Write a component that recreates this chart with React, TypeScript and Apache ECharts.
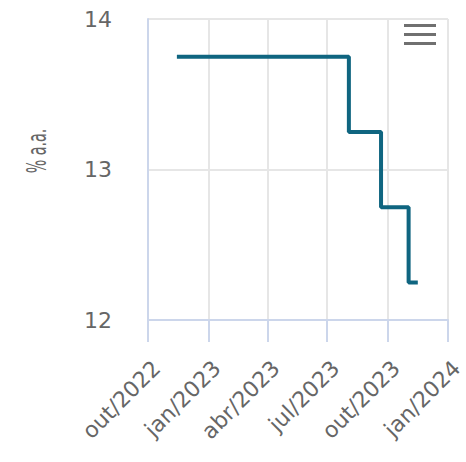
import React, { useEffect, useRef } from "react";
import * as echarts from "echarts";

const changeDates = ["2022-11-14", "2023-08-03", "2023-09-21", "2023-11-02", "2023-11-16"];
const rates = [13.75, 13.25, 12.75, 12.25, 12.25];
const tickDates = ["2022-10-01", "2023-01-01", "2023-04-01", "2023-07-01", "2023-10-01", "2024-01-01"];
const monthNames = ["jan", "fev", "mar", "abr", "mai", "jun", "jul", "ago", "set", "out", "nov", "dez"];
const yTitle = "% a.a.";

const ts = (s: string) => {
  const [y, m, d] = s.split("-").map(Number);
  return Date.UTC(y, m - 1, d);
};

export default function App() {
  const ref = useRef<HTMLDivElement>(null);
  useEffect(() => {
    if (!ref.current) return;
    const chart = echarts.init(ref.current, undefined, { renderer: "svg" });
    const ticks = tickDates.map(ts);
    const font = "'DejaVu Sans', sans-serif";
    chart.setOption({
      animation: false,
      textStyle: { fontFamily: font },
      grid: { left: 148, right: 18, top: 19, bottom: 142, containLabel: false, outerBoundsMode: "none" },
      xAxis: {
        type: "value",
        min: ticks[0],
        max: ticks[ticks.length - 1],
        axisLine: { show: true, lineStyle: { color: "#ccd6eb", width: 2 } },
        axisTick: { show: true, interval: 0, customValues: ticks, length: 22, lineStyle: { color: "#ccd6eb", width: 2 } },
        axisLabel: {
          customValues: ticks,
          interval: 0,
          rotate: 45,
          fontSize: 22,
          color: "#666666",
          fontFamily: font,
          margin: 36,
          verticalAlign: "top",
          lineHeight: 24,
          hideOverlap: false,
          showMinLabel: true,
          showMaxLabel: true,
          formatter: (v: number) => {
            const d = new Date(v);
            return monthNames[d.getUTCMonth()] + "/" + d.getUTCFullYear();
          },
        },
        splitLine: { show: true, interval: 0, showMinLine: true, showMaxLine: true, lineStyle: { color: "#e6e6e6", width: 2 } },
      },
      yAxis: {
        type: "value",
        min: 12,
        max: 14,
        interval: 1,
        axisLine: { show: true, lineStyle: { color: "#ccd6eb", width: 2 } },
        axisTick: { show: false },
        axisLabel: { fontSize: 22, color: "#666666", fontFamily: font, margin: 36 },
        splitLine: { show: true, lineStyle: { color: "#e6e6e6", width: 2 } },
      },
      graphic: [
        {
          type: "text",
          x: 37,
          y: 151,
          rotation: Math.PI / 2,
          scaleX: 0.68,
          scaleY: 1.3,
          style: {
            text: yTitle,
            fontSize: 21,
            fill: "#666666",
            fontFamily: font,
            textAlign: "center",
            textVerticalAlign: "middle",
          },
        },
        { type: "rect", shape: { x: 404, y: 24, width: 32, height: 3 }, style: { fill: "#707070" } },
        { type: "rect", shape: { x: 404, y: 33, width: 32, height: 3 }, style: { fill: "#707070" } },
        { type: "rect", shape: { x: 404, y: 42, width: 32, height: 3 }, style: { fill: "#707070" } },
      ],
      series: [
        {
          type: "line",
          step: "end",
          data: changeDates.map((d, i) => [ts(d), rates[i]]),
          showSymbol: false,
          lineStyle: { color: "#0f6580", width: 4 },
          itemStyle: { color: "#0f6580" },
        },
      ],
    });
    return () => chart.dispose();
  }, []);
  return <div ref={ref} style={{ width: 466, height: 462, position: "absolute", left: 0, top: 0 }} />;
}
